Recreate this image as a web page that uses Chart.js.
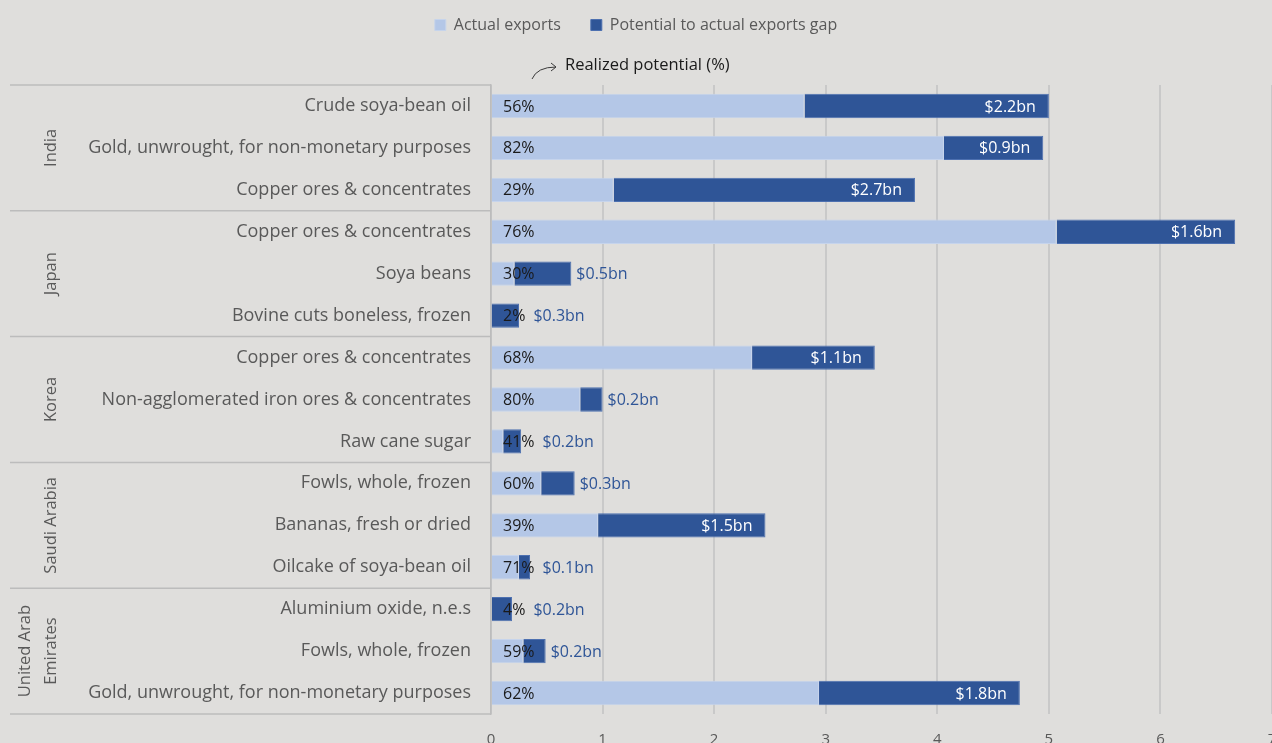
<!DOCTYPE html>
<html>
<head>
<meta charset="utf-8">
<script src="https://cdn.jsdelivr.net/npm/chart.js@4.4.1/dist/chart.umd.min.js"></script>
<style>
  html, body { margin: 0; padding: 0; background: #dfdedc; overflow: hidden; width: 1272px; height: 743px; }
  canvas { display: block; }
</style>
</head>
<body>
<canvas id="chart" width="1295" height="781"></canvas>
<script>
// ── Data ───────────────────────────────────────────────────────────────────

const countries = ["India", "Japan", "Korea", "Saudi Arabia", ["United Arab", "Emirates"]];

const products = [
  "Crude soya-bean oil",
  "Gold, unwrought, for non-monetary purposes",
  "Copper ores & concentrates",
  "Copper ores & concentrates",
  "Soya beans",
  "Bovine cuts boneless, frozen",
  "Copper ores & concentrates",
  "Non-agglomerated iron ores & concentrates",
  "Raw cane sugar",
  "Fowls, whole, frozen",
  "Bananas, fresh or dried",
  "Oilcake of soya-bean oil",
  "Aluminium oxide, n.e.s",
  "Fowls, whole, frozen",
  "Gold, unwrought, for non-monetary purposes",
];

// index into countries for each product row
const countryOf = [0, 0, 0, 1, 1, 1, 2, 2, 2, 3, 3, 3, 4, 4, 4];

// US$ bn
const actualExports = [2.81, 4.06, 1.10, 5.07, 0.21, 0.006, 2.34, 0.80, 0.11, 0.45, 0.96, 0.25, 0.008, 0.29, 2.94];
const exportGap     = [2.19, 0.89, 2.70, 1.60, 0.51, 0.245, 1.10, 0.20, 0.16, 0.30, 1.50, 0.10, 0.18, 0.20, 1.80];
const gapLabels     = ["$2.2bn", "$0.9bn", "$2.7bn", "$1.6bn", "$0.5bn", "$0.3bn", "$1.1bn", "$0.2bn",
                       "$0.2bn", "$0.3bn", "$1.5bn", "$0.1bn", "$0.2bn", "$0.2bn", "$1.8bn"];
const realizedPct   = [56, 82, 29, 76, 30, 2, 68, 80, 41, 60, 39, 71, 4, 59, 62];

const xMin = 0, xMax = 7;

// ── Styling ────────────────────────────────────────────────────────────────

const FONT = "'Open Sans', 'Noto Sans', sans-serif";
const LIGHT = "#b4c7e7";
const DARK  = "#2f5597";
const GREY_TEXT = "#595959";
const RULE = "#bcbcbc";

// ── Extra drawing: value labels, country groups, annotation ────────────────

const decorPlugin = {
  id: "decor",
  afterDatasetsDraw(chart) {
    const { ctx, chartArea: area, scales: { x, y } } = chart;
    ctx.save();
    ctx.font = `16px ${FONT}`;
    ctx.textBaseline = "middle";

    products.forEach((p, i) => {
      const cy = y.getPixelForValue(i);
      // realized potential (%)
      const pct = realizedPct[i] + "%";
      const pctX = area.left + 12;
      ctx.textAlign = "left";
      ctx.fillStyle = "#1a1a1a";
      ctx.fillText(pct, pctX, cy + 1);
      const pctEnd = pctX + ctx.measureText(pct).width;

      // gap label
      const start = x.getPixelForValue(actualExports[i]);
      const end = x.getPixelForValue(actualExports[i] + exportGap[i]);
      const txt = gapLabels[i];
      const w = ctx.measureText(txt).width;
      if (end - start > w + 22) {
        ctx.textAlign = "right";
        ctx.fillStyle = "#ffffff";
        ctx.fillText(txt, end - 13, cy + 1);
      } else {
        ctx.textAlign = "left";
        ctx.fillStyle = DARK;
        ctx.fillText(txt, Math.max(end + 5, pctEnd + 8), cy + 1);
      }
    });
    ctx.restore();
  },
  afterDraw(chart) {
    const { ctx, chartArea: area, scales: { y } } = chart;
    const leftEdge = 10;
    ctx.save();

    // group separators
    const bounds = [area.top];
    for (let i = 1; i < products.length; i++) {
      if (countryOf[i] !== countryOf[i - 1]) {
        bounds.push((y.getPixelForValue(i - 1) + y.getPixelForValue(i)) / 2);
      }
    }
    bounds.push(area.bottom);
    ctx.strokeStyle = RULE;
    ctx.lineWidth = 1.5;
    bounds.forEach(b => {
      ctx.beginPath();
      ctx.moveTo(leftEdge, b);
      ctx.lineTo(area.left, b);
      ctx.stroke();
    });

    // rotated country names
    ctx.font = `16.5px ${FONT}`;
    ctx.fillStyle = GREY_TEXT;
    ctx.textAlign = "center";
    ctx.textBaseline = "middle";
    countries.forEach((c, g) => {
      const rows = countryOf.map((v, i) => v === g ? i : -1).filter(i => i >= 0);
      const cy = rows.reduce((s, i) => s + y.getPixelForValue(i), 0) / rows.length;
      const lines = Array.isArray(c) ? c : [c];
      lines.forEach((line, k) => {
        const cx = 51 - (lines.length - 1 - k) * 26;
        ctx.save();
        ctx.translate(cx, cy);
        ctx.rotate(-Math.PI / 2);
        ctx.fillText(line, 0, 0);
        ctx.restore();
      });
    });

    // "Realized potential (%)" note with curved arrow
    const ax = area.left;
    ctx.strokeStyle = "#3a3a3a";
    ctx.lineWidth = 1;
    ctx.beginPath();
    ctx.moveTo(ax + 41, 79);
    ctx.quadraticCurveTo(ax + 46, 67, ax + 65, 67);
    ctx.stroke();
    ctx.beginPath();
    ctx.moveTo(ax + 60, 63);
    ctx.lineTo(ax + 65, 67);
    ctx.lineTo(ax + 60, 71);
    ctx.stroke();
    ctx.font = `16.5px ${FONT}`;
    ctx.fillStyle = "#1a1a1a";
    ctx.textAlign = "left";
    ctx.fillText("Realized potential (%)", ax + 74, 65);

    ctx.restore();
  },
};

// ── Chart ──────────────────────────────────────────────────────────────────

new Chart(document.getElementById("chart"), {
  type: "bar",
  data: {
    labels: products,
    datasets: [
      {
        label: "Actual exports",
        data: actualExports,
        backgroundColor: LIGHT,
        borderColor: "#c6d4ec",
        borderWidth: 1,
        barPercentage: 0.58,
        categoryPercentage: 1,
      },
      {
        label: "Potential to actual exports gap",
        data: exportGap,
        backgroundColor: DARK,
        borderColor: "#4d70b0",
        borderWidth: 1,
        barPercentage: 0.58,
        categoryPercentage: 1,
      },
    ],
  },
  options: {
    indexAxis: "y",
    responsive: false,
    animation: false,
    layout: { padding: { top: -13, left: 0, right: 23, bottom: 15 } },
    plugins: {
      tooltip: { enabled: false },
      legend: {
        position: "top",
        labels: {
          boxWidth: 11,
          boxHeight: 11,
          padding: 30,
          color: GREY_TEXT,
          font: { family: FONT, size: 16 },
        },
      },
    },
    scales: {
      x: {
        stacked: true,
        min: xMin,
        max: xMax,
        ticks: { stepSize: 1, color: GREY_TEXT, padding: 17, font: { family: FONT, size: 15 } },
        grid: { color: "#c9c9c9", lineWidth: 2, drawTicks: false },
        border: { display: false },
      },
      y: {
        stacked: true,
        grid: { display: false, drawTicks: false },
        border: { display: true, color: RULE, width: 1.5 },
        ticks: { color: GREY_TEXT, padding: 20, font: { family: FONT, size: 18 } },
        afterFit(scale) { scale.width = 491; },
      },
      spacer: {
        type: "linear",
        position: "top",
        display: true,
        ticks: { display: false },
        grid: { display: false, drawTicks: false },
        border: { display: false },
        afterFit(scale) { scale.height = 42; },
      },
    },
  },
  plugins: [decorPlugin],
});
</script>
</body>
</html>
